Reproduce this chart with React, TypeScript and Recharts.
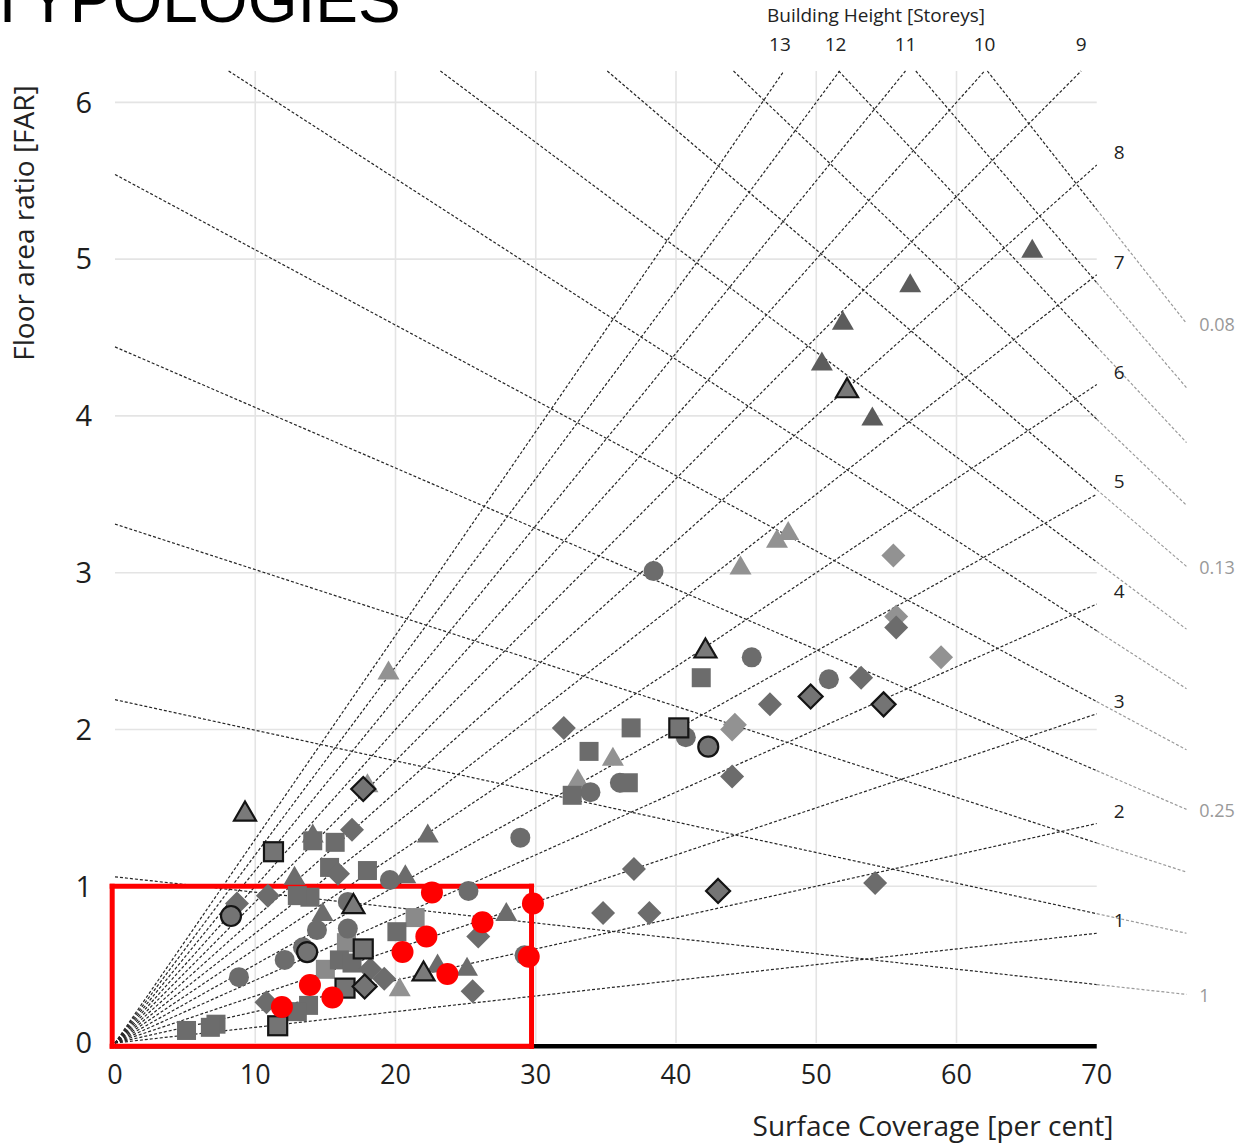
import React from 'react';
import {
  ScatterChart,
  Scatter,
  XAxis,
  YAxis,
  ReferenceLine,
  ReferenceDot,
} from 'recharts';

const W = 1239;
const H = 1145;
const X_MAX = 80;
const Y_MAX = 6.2;
const FONT = '"Open Sans", "Noto Sans", sans-serif';

// axes
const xTicks = [0, 10, 20, 30, 40, 50, 60, 70];
const yTicks = [0, 1, 2, 3, 4, 5, 6];
const gridX = [10, 20, 30, 40, 50, 60];
const gridY = [1, 2, 3, 4, 5, 6];
const X_END = 70;

// building height (storeys) radial lines
const storeys = [1, 2, 3, 4, 5, 6, 7, 8, 9, 10, 11, 12, 13];
const rightStoreyLabels = [1, 2, 3, 4, 5, 6, 7, 8];
const topStoreyLabels = [13, 12, 11, 10, 9];

// open space ratio lines (start point, end at x = 76.4)
const osrStartX = [62.2, 57.1, 51.6, 44.1, 35.1, 23.2, 8.1, 0, 0, 0, 0, 0];
const osrStartY = [6.2, 6.2, 6.2, 6.2, 6.2, 6.2, 6.2, 5.54, 4.44, 3.31, 2.19, 1.06];
const osrEndY = [4.59, 4.18, 3.83, 3.43, 3.04, 2.64, 2.26, 1.87, 1.49, 1.09, 0.7, 0.31];
const OSR_END_X = 76.4;
const osrLabels = ['0.08', '', '', '', '0.13', '', '', '', '0.25', '', '', '1'];

// highlighted selection box (coverage %, FAR)
const boxX = [-0.2, 29.7];
const boxY = [-0.02, 1.0];

// scatter series [coverage %, FAR]
const triDark = [[65.4, 5.06], [56.7, 4.84], [51.9, 4.6], [50.4, 4.34], [54.0, 3.99]];
const triMid = [[22.3, 1.33], [12.8, 1.06], [14.8, 0.83], [20.7, 1.07], [14.1, 1.33], [27.9, 0.83], [25.1, 0.48], [23.0, 0.5]];
const triLight = [[47.2, 3.21], [48.0, 3.26], [44.6, 3.04], [35.5, 1.82], [33.0, 1.68], [19.5, 2.37], [18.0, 1.65], [20.3, 0.35]];
const triOutlined = [[52.2, 4.17], [42.1, 2.51], [9.27, 1.47], [17.0, 0.88], [22.0, 0.45]];

const sqMid = [[41.8, 2.33], [36.8, 2.01], [33.8, 1.86], [36.6, 1.66], [32.6, 1.58], [14.1, 1.29], [15.7, 1.28], [15.3, 1.12], [18.0, 1.1], [13.9, 0.93], [13.0, 0.94], [20.1, 0.71], [16.0, 0.53], [16.9, 0.51], [13.8, 0.24], [13.0, 0.2], [7.2, 0.12], [6.8, 0.1], [5.1, 0.08]];
const sqLight = [[21.4, 0.8], [16.5, 0.64], [15.0, 0.47]];
const sqOutlined = [[40.2, 2.01], [11.3, 1.22], [17.7, 0.6], [16.4, 0.35], [11.6, 0.11]];

const ciMid = [[38.4, 3.01], [45.4, 2.46], [50.9, 2.32], [40.7, 1.95], [36.0, 1.66], [33.9, 1.6], [28.9, 1.31], [25.2, 0.97], [19.6, 1.04], [16.6, 0.9], [16.6, 0.73], [14.4, 0.72], [13.4, 0.61], [12.1, 0.53], [8.84, 0.42], [29.2, 0.56]];
const ciOutlined = [[42.3, 1.89], [8.27, 0.81], [13.7, 0.58]];

const diMid = [[53.2, 2.33], [55.7, 2.65], [46.7, 2.16], [44.0, 1.7], [32.0, 2.01], [37.0, 1.11], [34.8, 0.83], [38.1, 0.83], [54.2, 1.02], [16.9, 1.36], [10.9, 0.94], [8.7, 0.89], [15.9, 1.08], [18.2, 0.47], [19.2, 0.41], [10.8, 0.26], [25.9, 0.68], [25.5, 0.33]];
const diLight = [[55.5, 3.11], [55.7, 2.72], [58.9, 2.46], [44.0, 2.0], [44.2, 2.03]];
const diOutlined = [[54.8, 2.16], [49.6, 2.21], [43.0, 0.97], [17.7, 1.62], [17.8, 0.36]];

const redPoints = [[11.9, 0.23], [13.9, 0.37], [15.5, 0.29], [20.5, 0.58], [22.2, 0.68], [22.6, 0.96], [23.7, 0.44], [26.2, 0.77], [29.8, 0.89], [29.5, 0.55]];

const toData = (arr: number[][]) => arr.map(([x, y]) => ({ x, y }));

const DARK = '#5c5c5c';
const MID = '#6c6c6c';
const LIGHT = '#929292';
const OUTFILL = '#747474';

const makeShape = (kind: string, fill: string, outlined: boolean) => (props: any) => {
  const { cx, cy } = props;
  if (cx == null || cy == null) return <g />;
  const stroke = outlined ? '#141414' : 'none';
  const sw = outlined ? 2.2 : 0;
  if (kind === 'tri') {
    return (
      <polygon
        points={`${cx},${cy - 11} ${cx + 11},${cy + 8} ${cx - 11},${cy + 8}`}
        fill={fill}
        stroke={stroke}
        strokeWidth={sw}
        strokeLinejoin="miter"
      />
    );
  }
  if (kind === 'sq') {
    return <rect x={cx - 9.5} y={cy - 9.5} width={19} height={19} fill={fill} stroke={stroke} strokeWidth={sw} />;
  }
  if (kind === 'ci') {
    return <circle cx={cx} cy={cy} r={10} fill={fill} stroke={stroke} strokeWidth={sw} />;
  }
  if (kind === 'red') {
    return <circle cx={cx} cy={cy} r={11} fill="#ff0000" />;
  }
  return (
    <polygon
      points={`${cx},${cy - 12} ${cx + 12},${cy} ${cx},${cy + 12} ${cx - 12},${cy}`}
      fill={fill}
      stroke={stroke}
      strokeWidth={sw}
    />
  );
};

const interpAt = (x0: number, y0: number, x1: number, y1: number, x: number) =>
  y0 + ((y1 - y0) * (x - x0)) / (x1 - x0);

export default function App() {
  const dash = '3 2';
  const boxSegments = [
    [{ x: boxX[0], y: boxY[0] }, { x: boxX[1], y: boxY[0] }],
    [{ x: boxX[1], y: boxY[0] }, { x: boxX[1], y: boxY[1] }],
    [{ x: boxX[1], y: boxY[1] }, { x: boxX[0], y: boxY[1] }],
    [{ x: boxX[0], y: boxY[1] }, { x: boxX[0], y: boxY[0] }],
  ];
  return (
    <div style={{ position: 'relative', width: W, height: H, background: '#fff' }}>
      <style>{'body{margin:0;background:#fff;}'}</style>
      <ScatterChart
        width={W}
        height={H}
        margin={{ top: 71, right: 2, bottom: 62, left: 55 }}
      >
        <XAxis
          type="number"
          dataKey="x"
          domain={[0, X_MAX]}
          ticks={xTicks}
          axisLine={false}
          tickLine={false}
          tickSize={0}
          tickMargin={22}
          height={40}
          allowDataOverflow
          tick={{ fontSize: 27, fill: '#1e1e1e', fontFamily: FONT } as any}
        />
        <YAxis
          type="number"
          dataKey="y"
          domain={[0, Y_MAX]}
          ticks={yTicks}
          axisLine={false}
          tickLine={false}
          tickSize={0}
          tickMargin={23}
          width={60}
          allowDataOverflow
          tick={{ fontSize: 29, fill: '#1e1e1e', fontFamily: FONT } as any}
        />

        {gridY.map((v) => (
          <ReferenceLine
            key={'gy' + v}
            segment={[{ x: 0, y: v }, { x: X_END, y: v }]}
            stroke="#e4e4e4"
            strokeWidth={1.6}
            ifOverflow="visible"
          />
        ))}
        {gridX.map((v) => (
          <ReferenceLine
            key={'gx' + v}
            segment={[{ x: v, y: 0 }, { x: v, y: Y_MAX }]}
            stroke="#e4e4e4"
            strokeWidth={1.6}
            ifOverflow="visible"
          />
        ))}

        {storeys.map((n) => {
          const xe = Math.min(X_END, (Y_MAX * 100) / n);
          return (
            <ReferenceLine
              key={'st' + n}
              segment={[{ x: 0, y: 0 }, { x: xe, y: (n * xe) / 100 }]}
              stroke="#262626"
              strokeWidth={1.2}
              strokeDasharray={dash}
              ifOverflow="visible"
            />
          );
        })}

        {osrEndY.map((ye, i) => {
          const xs = osrStartX[i];
          const ys = osrStartY[i];
          const yMid = interpAt(xs, ys, OSR_END_X, ye, X_END);
          return (
            <React.Fragment key={'osr' + i}>
              <ReferenceLine
                segment={[{ x: xs, y: ys }, { x: X_END, y: yMid }]}
                stroke="#262626"
                strokeWidth={1.2}
                strokeDasharray={dash}
                ifOverflow="visible"
              />
              <ReferenceLine
                segment={[{ x: X_END, y: yMid }, { x: OSR_END_X, y: ye }]}
                stroke="#9a9a9a"
                strokeWidth={1.2}
                strokeDasharray={dash}
                ifOverflow="visible"
              />
            </React.Fragment>
          );
        })}

        <ReferenceLine
          segment={[{ x: 0, y: -0.02 }, { x: X_END, y: -0.02 }]}
          stroke="#000"
          strokeWidth={4.5}
          ifOverflow="visible"
        />

        <Scatter data={toData(diLight)} shape={makeShape('di', LIGHT, false)} isAnimationActive={false} />
        <Scatter data={toData(triLight)} shape={makeShape('tri', LIGHT, false)} isAnimationActive={false} />
        <Scatter data={toData(sqLight)} shape={makeShape('sq', '#8a8a8a', false)} isAnimationActive={false} />
        <Scatter data={toData(ciMid)} shape={makeShape('ci', MID, false)} isAnimationActive={false} />
        <Scatter data={toData(sqMid)} shape={makeShape('sq', MID, false)} isAnimationActive={false} />
        <Scatter data={toData(diMid)} shape={makeShape('di', MID, false)} isAnimationActive={false} />
        <Scatter data={toData(triMid)} shape={makeShape('tri', MID, false)} isAnimationActive={false} />
        <Scatter data={toData(triDark)} shape={makeShape('tri', DARK, false)} isAnimationActive={false} />
        <Scatter data={toData(sqOutlined)} shape={makeShape('sq', OUTFILL, true)} isAnimationActive={false} />
        <Scatter data={toData(ciOutlined)} shape={makeShape('ci', OUTFILL, true)} isAnimationActive={false} />
        <Scatter data={toData(diOutlined)} shape={makeShape('di', OUTFILL, true)} isAnimationActive={false} />
        <Scatter data={toData(triOutlined)} shape={makeShape('tri', '#7a7a7a', true)} isAnimationActive={false} />

        {boxSegments.map((seg, i) => (
          <ReferenceLine
            key={'box' + i}
            segment={seg as any}
            stroke="#ff0000"
            strokeWidth={5}
            strokeLinecap="square"
            ifOverflow="visible"
          />
        ))}
        <Scatter data={toData(redPoints)} shape={makeShape('red', '#ff0000', false)} isAnimationActive={false} />

        {rightStoreyLabels.map((n) => (
          <ReferenceDot
            key={'rl' + n}
            x={71.6}
            y={(n * X_END) / 100}
            r={0}
            ifOverflow="visible"
            shape={(p: any) => (
              <text
                x={p.cx}
                y={p.cy - 13}
                textAnchor="middle"
                dominantBaseline="central"
                fontSize={19}
                fontFamily={FONT}
                fill="#222"
              >
                {n}
              </text>
            )}
          />
        ))}
        {topStoreyLabels.map((n) => (
          <ReferenceDot
            key={'tl' + n}
            x={(Y_MAX * 100) / n}
            y={Y_MAX}
            r={0}
            ifOverflow="visible"
            shape={(p: any) => (
              <text
                x={p.cx - (n > 11 ? 4 : 0)}
                y={p.cy - 27}
                textAnchor="middle"
                dominantBaseline="central"
                fontSize={19}
                fontFamily={FONT}
                fill="#222"
              >
                {n}
              </text>
            )}
          />
        ))}
        {osrLabels.map((lab, i) =>
          lab ? (
            <ReferenceDot
              key={'ol' + i}
              x={OSR_END_X + 0.9}
              y={osrEndY[i]}
              r={0}
              ifOverflow="visible"
              shape={(p: any) => (
                <text
                  x={p.cx}
                  y={p.cy + 1}
                  textAnchor="start"
                  dominantBaseline="central"
                  fontSize={18}
                  fontFamily={FONT}
                  fill="#999"
                >
                  {lab}
                </text>
              )}
            />
          ) : null
        )}
      </ScatterChart>

      <svg
        width={W}
        height={H}
        style={{ position: 'absolute', left: 0, top: 0, pointerEvents: 'none' }}
      >
        <text x={-12} y={22} fontSize={64} fontFamily='"Liberation Sans", Arial, sans-serif' fill="#000">
          TYPOLOGIES
        </text>
        <text x={876} y={15} textAnchor="middle" dominantBaseline="central" fontSize={19} fontFamily={FONT} fill="#222">
          Building Height [Storeys]
        </text>
        <text
          x={933}
          y={1125}
          textAnchor="middle"
          dominantBaseline="central"
          fontSize={28}
          fontFamily={FONT}
          fill="#222"
        >
          Surface Coverage [per cent]
        </text>
        <text
          x={23}
          y={223}
          textAnchor="middle"
          dominantBaseline="central"
          fontSize={28}
          fontFamily={FONT}
          fill="#222"
          transform="rotate(-90 23 223)"
        >
          Floor area ratio [FAR]
        </text>
      </svg>
    </div>
  );
}
